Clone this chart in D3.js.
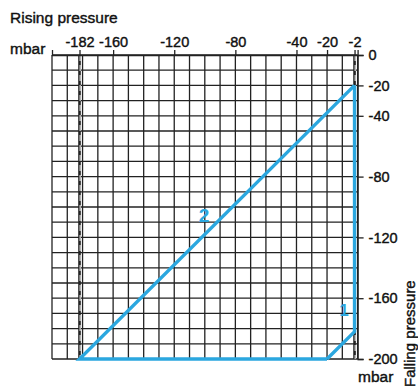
<!DOCTYPE html>
<html>
<head>
<meta charset="utf-8">
<script src="https://cdn.jsdelivr.net/npm/d3@7"></script>
<style>
  body { margin: 0; background: #fff; }
  text { font-family: "Liberation Sans", Arial, sans-serif; fill: #111; }
  .heavy { stroke: #111; stroke-width: 0.4px; }
</style>
</head>
<body>
<svg id="chart" width="418" height="387"></svg>
<script>
// rising pressure (x) and falling pressure (y), mbar
var topTicks = [-182, -160, -120, -80, -40, -20, -2]
var rightTicks = [0, -20, -40, -80, -120, -160, -200]
var dashedMarks = [-182, -2]
var curve1 = [[-2, -20], [-2, -182], [-20, -200]]
var curve2 = [[-20, -200], [-182, -200], [-2, -20]]
var curveLabels = [['2', -104, -110, 19], ['1', -12, -171.5, 17]]

var svg = d3.select('#chart')
var blue = '#2ba7df'
var gridColor = '#222'

var x = d3.scaleLinear().domain([-200, 0]).range([52, 357.6])
var y = d3.scaleLinear().domain([0, -200]).range([55, 359])

// grid every 10 mbar
var gridVals = d3.range(-200, 1, 10)
var grid = svg.append('g')
grid.selectAll('line.v')
    .data(gridVals)
    .enter().append('line')
    .attr('x1', function (d) { return x(d) })
    .attr('x2', function (d) { return x(d) })
    .attr('y1', y(0))
    .attr('y2', y(-200))
    .attr('stroke', gridColor)
    .attr('stroke-width', 1.3)
grid.selectAll('line.h')
    .data(gridVals)
    .enter().append('line')
    .attr('y1', function (d) { return y(d) })
    .attr('y2', function (d) { return y(d) })
    .attr('x1', x(-200))
    .attr('x2', x(0))
    .attr('stroke', gridColor)
    .attr('stroke-width', 1.3)

// dashed limit lines
dashedMarks.forEach(function (v) {
  svg.append('line')
      .attr('x1', x(v)).attr('x2', x(v))
      .attr('y1', y(0)).attr('y2', y(-200))
      .attr('stroke', gridColor).attr('stroke-width', 2.6)
  svg.append('line')
      .attr('x1', x(v) + 0.6).attr('x2', x(v) + 0.6)
      .attr('y1', y(0)).attr('y2', y(-200))
      .attr('stroke', '#fff').attr('stroke-width', 1)
      .attr('stroke-dasharray', '6,4')
})

// axes
var fmt = function (d) { return String(d) }
var topAxis = d3.axisTop(x).tickValues(topTicks).tickSize(5).tickFormat(fmt)
var gTop = svg.append('g').attr('transform', 'translate(0,' + y(0) + ')').call(topAxis)
var rightAxis = d3.axisRight(y).tickValues(rightTicks).tickSize(6).tickFormat(fmt)
var gRight = svg.append('g').attr('transform', 'translate(' + x(0) + ',0)').call(rightAxis)
;[gTop, gRight].forEach(function (g) {
  g.select('.domain').attr('stroke', gridColor).attr('stroke-width', 1.3)
  g.selectAll('.tick line').attr('stroke', gridColor).attr('stroke-width', 1.3)
  g.selectAll('.tick text')
      .attr('class', 'heavy')
      .attr('font-family', '"Liberation Sans", Arial, sans-serif')
      .attr('font-size', 14.5)
      .attr('fill', '#111')
})
gTop.selectAll('.tick text').attr('dy', '-0.05em').attr('y', -7)
gRight.selectAll('.tick text').attr('x', 11)

// curves
var line = d3.line()
    .x(function (d) { return x(d[0]) })
    .y(function (d) { return y(d[1]) })
;[curve2, curve1].forEach(function (c) {
  svg.append('path')
      .datum(c)
      .attr('d', line)
      .attr('fill', 'none')
      .attr('stroke', blue)
      .attr('stroke-width', 3.4)
      .attr('stroke-linejoin', 'miter')
})

svg.selectAll('text.curve')
    .data(curveLabels)
    .enter().append('text')
    .attr('x', function (d) { return x(d[1]) })
    .attr('y', function (d) { return y(d[2]) })
    .attr('font-size', function (d) { return d[3] })
    .attr('font-weight', 'bold')
    .style('fill', blue)
    .text(function (d) { return d[0] })

// titles
svg.append('text').attr('class', 'heavy').attr('x', 10).attr('y', 23).attr('font-size', 15.5).text('Rising pressure')
svg.append('text').attr('class', 'heavy').attr('x', 10).attr('y', 54).attr('font-size', 15.5).text('mbar')
svg.append('text').attr('class', 'heavy').attr('x', 358).attr('y', 382).attr('font-size', 15.5).text('mbar')
svg.append('text')
    .attr('class', 'heavy')
    .attr('transform', 'translate(415,387) rotate(-90)')
    .attr('font-size', 15)
    .text('Falling pressure')
</script>
</body>
</html>
